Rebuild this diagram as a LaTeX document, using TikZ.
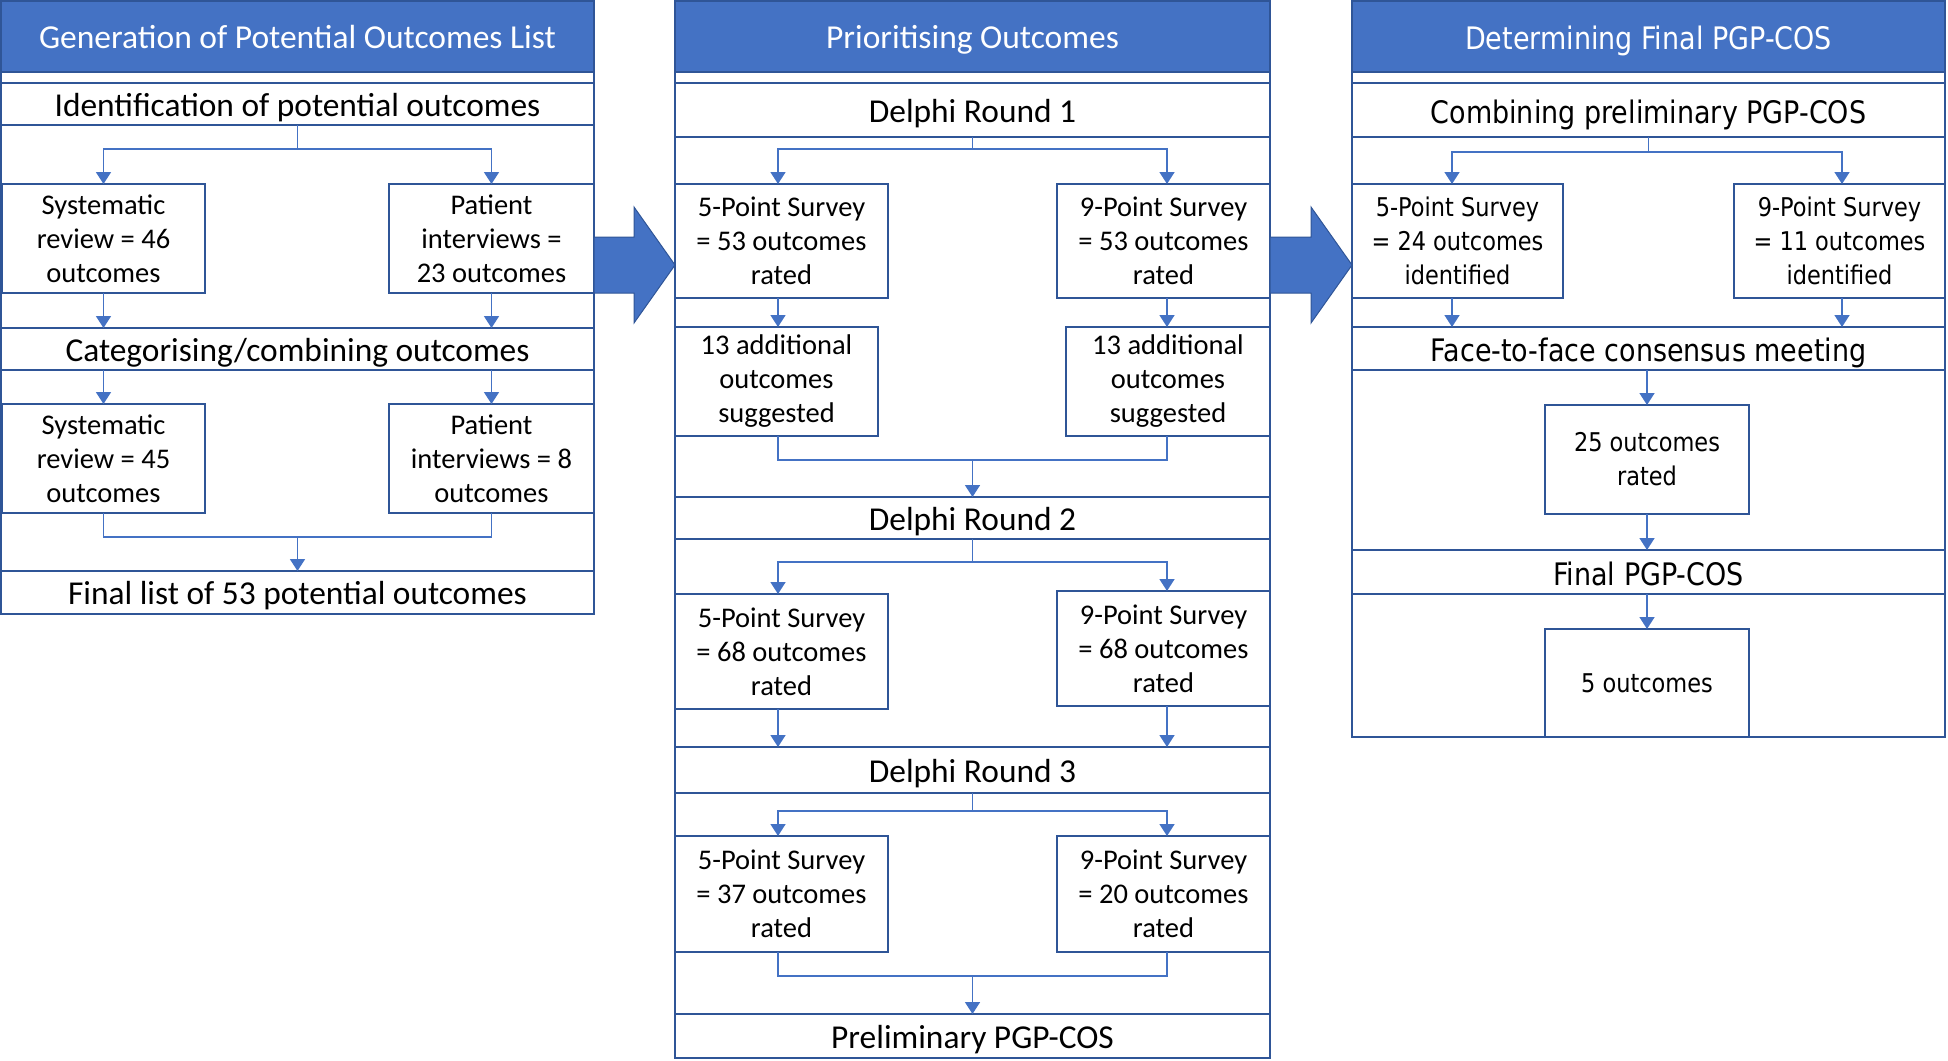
\documentclass[tikz,border=0pt]{standalone}
\usepackage{fontspec}
\setmainfont{Carlito}
\newfontfamily\rfont[FakeStretch=0.87]{DejaVu Sans}
\usetikzlibrary{arrows.meta}
\definecolor{pgphdr}{HTML}{4472C4}
\definecolor{pgpbord}{HTML}{2F5597}
\definecolor{pgpconn}{HTML}{4472C4}
\newcommand{\pgpbox}[7]{%
  \pgfmathsetmacro{\pgpw}{#5-#3}\pgfmathsetmacro{\pgph}{#6-#4}%
  \node[#1, minimum width=\pgpw pt, minimum height=\pgph pt] (#2) at (#3,#4) {#7};}
\tikzset{
  pgpbase/.style={draw=pgpbord, line width=2.7pt, fill=white, inner sep=0pt, outer sep=0pt,
    anchor=north west, align=center, text=black},
  pgphd/.style={pgpbase, fill=pgphdr, text=white, font=\fontsize{33.5}{38}\selectfont,
    text height=24pt, text depth=0pt},
  pgphdx/.style={pgpbase, fill=pgphdr, text=white, font=\rfont\fontsize{31}{36}\selectfont,
    text height=26pt, text depth=0pt},
  pgpone/.style={pgpbase, font=\fontsize{33.4}{38}\selectfont, text height=24pt, text depth=0pt},
  pgpmulti/.style={pgpbase, font=\fontsize{28.5}{34}\selectfont},
  pgponex/.style={pgpbase, font=\rfont\fontsize{31}{36}\selectfont, text height=26pt, text depth=0pt},
  pgpmultix/.style={pgpbase, font=\rfont\fontsize{25.8}{34}\selectfont},
  pgppanel/.style={pgpbase, fill=none},
  pgplink/.style={draw=pgpconn, line width=1.7pt},
  pgparr/.style={pgplink, -{Triangle[width=15pt,length=12pt]}},
  pgpblock/.style={fill=pgphdr, draw=pgpbord, line width=1pt},
}
\begin{document}
\begin{tikzpicture}[x=1pt,y=-1pt]
\useasboundingbox (0,0) rectangle (1948,1060);
% column guides for connector positions
\coordinate (xml) at (778,0);
\coordinate (xmr) at (1167,0);
\coordinate (xrl) at (1452,0);
\coordinate (xrr) at (1842,0);
% ---------- left panel
\pgpbox{pgppanel}{P1}{1}{1}{594}{614}{}
\pgpbox{pgphd}{H1}{1}{1}{594}{72}{Generation of Potential Outcomes List}
\pgpbox{pgpone}{L1}{1}{83}{594}{125}{Identification of potential outcomes}
\pgpbox{pgpmulti}{L2}{2}{184}{205}{293}{Systematic\\review = 46\\outcomes}
\pgpbox{pgpmulti}{L3}{389}{184}{594}{293}{Patient\\interviews =\\23 outcomes}
\pgpbox{pgpone}{L4}{1}{328}{594}{370}{Categorising/combining outcomes}
\pgpbox{pgpmulti}{L5}{2}{404}{205}{513}{Systematic\\review = 45\\outcomes}
\pgpbox{pgpmulti}{L6}{389}{404}{594}{513}{Patient\\interviews = 8\\outcomes}
\pgpbox{pgpone}{L7}{1}{571}{594}{614}{Final list of 53 potential outcomes}
% ---------- middle panel
\pgpbox{pgppanel}{P2}{675}{1}{1270}{1058}{}
\pgpbox{pgphd}{H2}{675}{1}{1270}{72}{Prioritising Outcomes}
\pgpbox{pgpone}{M1}{675}{83}{1270}{137}{Delphi Round 1}
\pgpbox{pgpmulti}{M2}{675}{184}{888}{298}{5-Point Survey\\= 53 outcomes\\rated}
\pgpbox{pgpmulti}{M3}{1057}{184}{1270}{298}{9-Point Survey\\= 53 outcomes\\rated}
\pgpbox{pgpmulti}{M4}{675}{327}{878}{436}{13 additional\\outcomes\\suggested}
\pgpbox{pgpmulti}{M5}{1066}{327}{1270}{436}{13 additional\\outcomes\\suggested}
\pgpbox{pgpone}{M6}{675}{497}{1270}{539}{Delphi Round 2}
\pgpbox{pgpmulti}{M7}{675}{594}{888}{709}{5-Point Survey\\= 68 outcomes\\rated}
\pgpbox{pgpmulti}{M8}{1057}{591}{1270}{706}{9-Point Survey\\= 68 outcomes\\rated}
\pgpbox{pgpone}{M9}{675}{747}{1270}{793}{Delphi Round 3}
\pgpbox{pgpmulti}{M10}{675}{836}{888}{952}{5-Point Survey\\= 37 outcomes\\rated}
\pgpbox{pgpmulti}{M11}{1057}{836}{1270}{952}{9-Point Survey\\= 20 outcomes\\rated}
\pgpbox{pgpone}{M12}{675}{1014}{1270}{1058}{Preliminary PGP-COS}
% ---------- right panel
\pgpbox{pgppanel}{P3}{1352}{1}{1945}{737}{}
\pgpbox{pgphdx}{H3}{1352}{1}{1945}{72}{Determining Final PGP-COS}
\pgpbox{pgponex}{R1}{1352}{83}{1945}{137}{Combining preliminary PGP-COS}
\pgpbox{pgpmultix}{R2}{1352}{184}{1563}{298}{5-Point Survey\\= 24 outcomes\\identified}
\pgpbox{pgpmultix}{R3}{1734}{184}{1945}{298}{9-Point Survey\\= 11 outcomes\\identified}
\pgpbox{pgponex}{R4}{1352}{327}{1945}{370}{Face-to-face consensus meeting}
\pgpbox{pgpmultix}{R5}{1545}{405}{1749}{514}{25 outcomes\\rated}
\pgpbox{pgponex}{R6}{1352}{550}{1945}{594}{Final PGP-COS}
\pgpbox{pgpmultix}{R7}{1545}{629}{1749}{737}{5 outcomes}
% ---------- block arrows
\draw[pgpblock] (594,237) -- (634,237) -- (634,207) -- (675,265) -- (634,323) -- (634,293) -- (594,293) -- cycle;
\draw[pgpblock] (1270,237) -- (1311,237) -- (1311,207) -- (1352,265) -- (1311,323) -- (1311,293) -- (1270,293) -- cycle;
% ---------- left connectors
\draw[pgparr] (L1.south) -- ++(0,24) -| (L2.north);
\draw[pgparr] (L1.south) -- ++(0,24) -| (L3.north);
\draw[pgparr] (L2.south) -- (L2.south |- L4.north);
\draw[pgparr] (L3.south) -- (L3.south |- L4.north);
\draw[pgparr] (L5.north |- L4.south) -- (L5.north);
\draw[pgparr] (L6.north |- L4.south) -- (L6.north);
\coordinate (m1) at (297.5,537);
\draw[pgplink] (L5.south) |- (m1) -| (L6.south);
\draw[pgparr] (m1) -- (L7.north);
% ---------- middle connectors
\draw[pgparr] (M1.south) -- ++(0,12) -| (M2.north -| xml);
\draw[pgparr] (M1.south) -- ++(0,12) -| (M3.north -| xmr);
\draw[pgparr] (M2.south -| xml) -- (M4.north -| xml);
\draw[pgparr] (M3.south -| xmr) -- (M5.north -| xmr);
\coordinate (m2) at (972.5,460);
\draw[pgplink] (M4.south -| xml) |- (m2) -| (M5.south -| xmr);
\draw[pgparr] (m2) -- (M6.north);
\draw[pgparr] (M6.south) -- ++(0,23) -| (M7.north -| xml);
\draw[pgparr] (M6.south) -- ++(0,23) -| (M8.north -| xmr);
\draw[pgparr] (M7.south -| xml) -- (M9.north -| xml);
\draw[pgparr] (M8.south -| xmr) -- (M9.north -| xmr);
\draw[pgparr] (M9.south) -- ++(0,18) -| (M10.north -| xml);
\draw[pgparr] (M9.south) -- ++(0,18) -| (M11.north -| xmr);
\coordinate (m3) at (972.5,976);
\draw[pgplink] (M10.south -| xml) |- (m3) -| (M11.south -| xmr);
\draw[pgparr] (m3) -- (M12.north);
% ---------- right connectors
\draw[pgparr] (R1.south) -- ++(0,15) -| (R2.north -| xrl);
\draw[pgparr] (R1.south) -- ++(0,15) -| (R3.north -| xrr);
\draw[pgparr] (R2.south -| xrl) -- (R4.north -| xrl);
\draw[pgparr] (R3.south -| xrr) -- (R4.north -| xrr);
\draw[pgparr] (R4.south -| R5.north) -- (R5.north);
\draw[pgparr] (R5.south) -- (R5.south |- R6.north);
\draw[pgparr] (R6.south -| R7.north) -- (R7.north);
\end{tikzpicture}
\end{document}
